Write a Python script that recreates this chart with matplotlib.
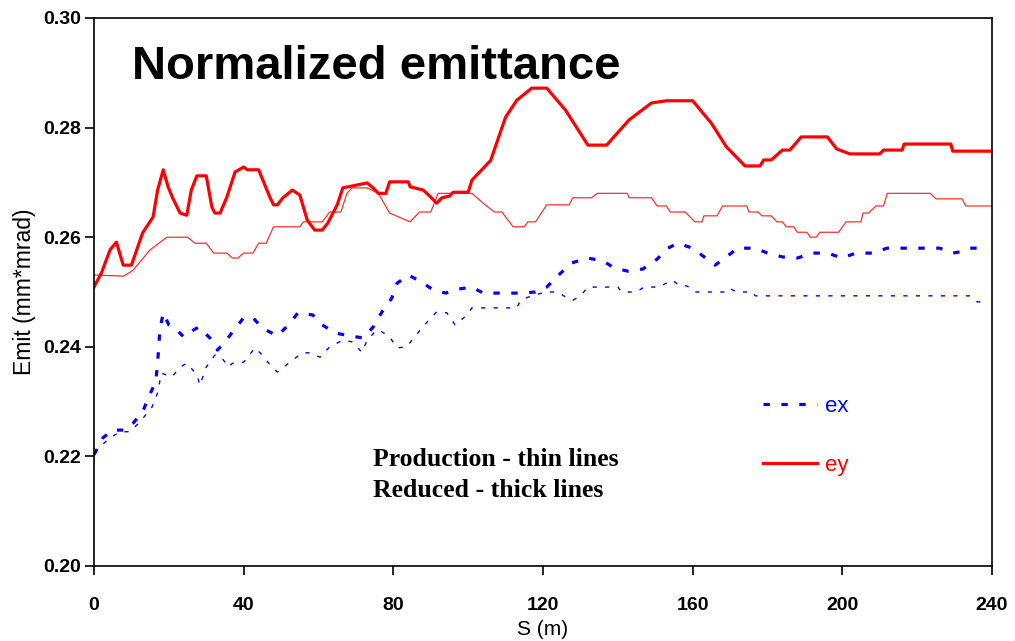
import matplotlib
matplotlib.use("Agg")
import matplotlib.pyplot as plt
from matplotlib.lines import Line2D

# Vertical emittance, reduced configuration (thick red)
s_ey_red = [0, 2, 4.3, 6, 7.8, 10, 13, 15.8, 17, 18.5, 19.8, 21, 23, 24.8, 26, 27.5,
            30, 31.5, 32.3, 33.7, 35.5, 37.7, 40, 41, 44, 47, 48, 49, 50.5, 53, 55,
            57, 59, 61, 62.5, 65, 66.5, 73, 74.6, 76, 78, 79, 84, 84.5, 88, 90, 91.6,
            93, 95, 96, 100, 101, 106, 110, 113, 117, 121, 126, 132, 137, 143, 149,
            153, 160, 165, 169, 174, 178, 179, 181, 184, 186, 189, 196, 198.5, 202,
            210, 211, 216, 216.5, 229, 229.5, 240]
ey_red = [0.2509, 0.2535, 0.2577, 0.2591, 0.2549, 0.2549, 0.2608, 0.2637, 0.2686,
          0.2723, 0.2692, 0.2672, 0.2644, 0.2640, 0.2686, 0.2712, 0.2712, 0.2655,
          0.2644, 0.2644, 0.2673, 0.2719, 0.2728, 0.2723, 0.2723, 0.2673, 0.2659,
          0.2659, 0.2672, 0.2686, 0.2677, 0.2631, 0.2613, 0.2613, 0.2626, 0.2659,
          0.2690, 0.2699, 0.2690, 0.2680, 0.2680, 0.2701, 0.2701, 0.2692, 0.2686,
          0.2673, 0.2662, 0.2672, 0.2675, 0.2682, 0.2682, 0.2704, 0.2740, 0.2819,
          0.2850, 0.2872, 0.2872, 0.2832, 0.2768, 0.2768, 0.2814, 0.2845, 0.2849,
          0.2849, 0.2808, 0.2765, 0.2730, 0.2730, 0.2741, 0.2741, 0.2759, 0.2759,
          0.2783, 0.2783, 0.2761, 0.2752, 0.2752, 0.2759, 0.2759, 0.2770, 0.2770,
          0.2757, 0.2757]

# Vertical emittance, production configuration (thin red)
s_ey_prod = [0, 8, 10.5, 15, 19.5, 25, 27, 30, 32, 35.5, 37, 38.5, 40, 42.5, 44, 46,
             48, 55, 56, 61, 63, 66, 67.6, 69, 73, 76, 79, 84.5, 87, 90, 92, 101,
             104, 107, 109, 112, 115, 116, 118, 121, 127, 128, 133, 134.5, 142.5,
             143, 149, 150.5, 153, 154, 158, 160.6, 162.5, 163, 166.5, 168, 174.5,
             175, 177.5, 178.5, 181, 182.5, 184, 185, 187, 188, 190.5, 191.5, 193,
             194, 199, 201, 205, 205.5, 207, 209, 211, 212, 223.5, 225, 232, 233, 240]
ey_prod = [0.2531, 0.2529, 0.2540, 0.2577, 0.2600, 0.2600, 0.2589, 0.2589, 0.2571,
           0.2571, 0.2562, 0.2562, 0.2571, 0.2571, 0.2589, 0.2589, 0.2619, 0.2619,
           0.2628, 0.2628, 0.2646, 0.2646, 0.2680, 0.2690, 0.2690, 0.2680, 0.2644,
           0.2628, 0.2646, 0.2646, 0.2680, 0.2680, 0.2662, 0.2646, 0.2646, 0.2619,
           0.2619, 0.2628, 0.2628, 0.2659, 0.2659, 0.2672, 0.2672, 0.2680, 0.2680,
           0.2672, 0.2672, 0.2657, 0.2657, 0.2646, 0.2646, 0.2628, 0.2628, 0.2639,
           0.2639, 0.2657, 0.2657, 0.2646, 0.2646, 0.2639, 0.2639, 0.2628, 0.2628,
           0.2619, 0.2619, 0.2609, 0.2609, 0.2600, 0.2600, 0.2609, 0.2609, 0.2628,
           0.2628, 0.2644, 0.2644, 0.2657, 0.2657, 0.2680, 0.2680, 0.2670, 0.2670,
           0.2657, 0.2657]

# Horizontal emittance, reduced configuration (thick blue dashes)
s_ex_red = [0, 2.4, 5, 8, 10.5, 13, 14.5, 16.5, 17, 17.6, 18.5, 20, 21.6, 24, 25.6,
            28, 31, 33, 35, 37, 40, 42.5, 45, 49, 52, 54.5, 58.5, 61, 64.5, 68.4,
            72, 74.6, 77, 79.6, 81, 84, 87.6, 90.6, 94, 97, 101, 104, 114, 118, 121,
            124.5, 127.7, 131.8, 136, 139, 142.7, 146.7, 150.5, 153.4, 156, 160,
            162.5, 166, 169, 172, 176.7, 180, 184, 188, 192, 196, 200, 203.6, 208,
            212, 226, 229.6, 232, 234, 238.5]
ex_red = [0.2203, 0.2234, 0.2248, 0.2248, 0.2261, 0.2281, 0.2307, 0.2336, 0.2370,
          0.2431, 0.2462, 0.2440, 0.2434, 0.2418, 0.2427, 0.2436, 0.2416, 0.2394,
          0.2409, 0.2427, 0.2453, 0.2453, 0.2434, 0.2420, 0.2440, 0.2462, 0.2458,
          0.2440, 0.2425, 0.2420, 0.2416, 0.2436, 0.2464, 0.2489, 0.2516, 0.2531,
          0.2518, 0.2504, 0.2498, 0.2505, 0.2509, 0.2498, 0.2498, 0.2500, 0.2509,
          0.2533, 0.2553, 0.2562, 0.2557, 0.2544, 0.2538, 0.2542, 0.2560, 0.2580,
          0.2589, 0.2580, 0.2567, 0.2549, 0.2564, 0.2580, 0.2580, 0.2571, 0.2564,
          0.2562, 0.2571, 0.2571, 0.2562, 0.2571, 0.2571, 0.2580, 0.2580, 0.2571,
          0.2574, 0.2580, 0.2580]

# Horizontal emittance, production configuration (thin blue dots)
s_ex_prod = [0, 4.3, 7, 9.6, 12.3, 15.5, 17, 18, 20.8, 23, 24.8, 27.5, 28.3, 30,
             32.3, 34, 36, 37, 40, 43, 45, 47.5, 49, 52.4, 55.6, 57.7, 60.4, 63,
             66.5, 69, 71.6, 73, 75.6, 77, 79, 81, 83.6, 86, 89, 91.6, 94.3, 96.5,
             99.7, 101, 113, 114, 117.3, 121, 124, 126, 128, 130, 132, 140, 141, 145,
             147, 151, 154.5, 156.6, 158.5, 160.6, 168.6, 169.7, 171.8, 176, 176.7,
             234, 236, 238]
ex_prod = [0.2208, 0.2234, 0.2245, 0.2245, 0.2263, 0.2290, 0.2316, 0.2352, 0.2345,
           0.2363, 0.2370, 0.2349, 0.2330, 0.2363, 0.2385, 0.2381, 0.2363, 0.2370,
           0.2372, 0.2398, 0.2385, 0.2363, 0.2354, 0.2372, 0.2389, 0.2389, 0.2381,
           0.2400, 0.2412, 0.2409, 0.2390, 0.2412, 0.2431, 0.2427, 0.2418, 0.2398,
           0.2400, 0.2421, 0.2445, 0.2464, 0.2462, 0.2440, 0.2458, 0.2471, 0.2471,
           0.2485, 0.2494, 0.2500, 0.2500, 0.2491, 0.2485, 0.2493, 0.2509, 0.2509,
           0.2500, 0.2500, 0.2509, 0.2509, 0.2522, 0.2511, 0.2511, 0.2500, 0.2500,
           0.2507, 0.2500, 0.2500, 0.2493, 0.2493, 0.2482, 0.2482]

x_ticks = [0, 40, 80, 120, 160, 200, 240]
y_ticks = [0.20, 0.22, 0.24, 0.26, 0.28, 0.30]

W, H = 1015, 641
fig = plt.figure(figsize=(W / 100, H / 100), dpi=100)
ax = fig.add_axes([94 / W, 1 - 566 / H, 898 / W, 548 / H])

RED = "#ff0000"
BLUE = "#0000ff"

ax.plot(s_ey_prod, ey_prod, color="#ff3030", lw=0.9)
ax.plot(s_ey_red, ey_red, color=RED, lw=2.3)
ax.plot(s_ex_prod, ex_prod, color=BLUE, lw=1.0, dashes=(3, 6), dash_capstyle="butt")
ax.plot(s_ex_red, ex_red, color=BLUE, lw=2.3, dashes=(2.0, 3.6), dash_capstyle="butt")

ax.set_xlim(0, 240)
ax.set_ylim(0.20, 0.30)
ax.set_xticks(x_ticks)
ax.set_yticks(y_ticks)
ax.set_xticklabels([str(v) for v in x_ticks])
ax.set_yticklabels([f"{v:.2f}" for v in y_ticks])
ax.tick_params(direction="out", length=6.5, width=1.2, labelsize=14)
ax.tick_params(axis="x", pad=16)
ax.tick_params(axis="y", pad=3)
for lab in ax.get_xticklabels() + ax.get_yticklabels():
    lab.set_fontweight("bold")
    lab.set_family("Liberation Sans")
for sp in ax.spines.values():
    sp.set_linewidth(1.2)

ax.set_xlabel("S (m)", fontsize=15, family="Liberation Sans", labelpad=4)
ax.set_ylabel("Emit (mm*mrad)", fontsize=16.5, family="Liberation Sans", labelpad=5)

fig.text(132 / W, 1 - 79 / H, "Normalized emittance", fontsize=34, fontweight="bold",
         family="Liberation Sans", va="baseline", ha="left")
fig.text(373 / W, 1 - 466 / H, "Production - thin lines", fontsize=18.5, fontweight="bold",
         family="Liberation Serif", va="baseline", ha="left")
fig.text(373 / W, 1 - 497 / H, "Reduced - thick lines", fontsize=18.5, fontweight="bold",
         family="Liberation Serif", va="baseline", ha="left")

handles = [Line2D([], [], color=BLUE, lw=2.3, dashes=(2.0, 3.6), dash_capstyle="butt"),
           Line2D([], [], color=RED, lw=2.3)]
leg = ax.legend(handles, ["ex", "ey"], loc="upper left",
                bbox_to_anchor=(743 / W, 1 - 376 / H), bbox_transform=fig.transFigure,
                frameon=False, handlelength=2.45, handletextpad=0.36,
                labelspacing=1.7, labelcolor="linecolor",
                prop={"family": "Liberation Sans", "size": 16})

fig.savefig("out.png", dpi=100)
